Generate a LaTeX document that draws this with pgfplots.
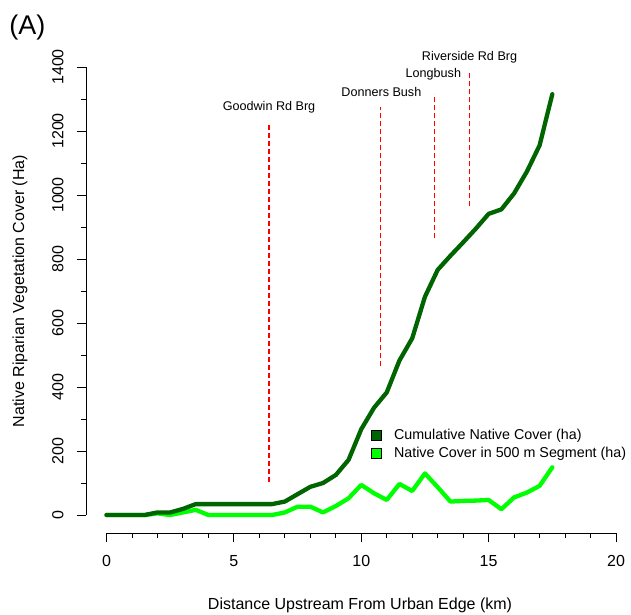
\documentclass[border=0pt]{standalone}
\usepackage{pgfplots}
\pgfplotsset{compat=1.18}
\usepackage{pgfplotstable}
\usepackage{fontspec}
\setmainfont{Liberation Sans}
\definecolor{darkgreenR}{HTML}{006400}
\definecolor{greenR}{HTML}{00FF00}
\definecolor{redR}{HTML}{FF0000}
\pgfplotstableread{
km cum
0 0
0.5 0
1 0
1.5 0
2 8
2.5 8
3 19
3.5 34
4 34
4.5 34
5 34
5.5 34
6 34
6.5 34
7 42
7.5 65
8 88
8.5 100
9 125
9.5 172
10 268
10.5 335
11 383
11.5 483
12 552
12.5 682
13 766
13.5 810
14 852
14.5 895
15 941
15.5 955
16 1005
16.5 1073
17 1155
17.5 1315
}\cumtable
\pgfplotstableread{
km seg
0 0
0.5 0
1 0
1.5 0
2 5
2.5 0
3 8
3.5 16
4 0
4.5 0
5 0
5.5 0
6 0
6.5 0
7 8
7.5 26
8 26
8.5 8
9 28
9.5 52
10 94
10.5 68
11 47
11.5 97
12 75
12.5 130
13 87
13.5 42
14 44
14.5 45
15 47
15.5 18
16 55
16.5 70
17 91
17.5 149
}\segtable
\begin{document}
\begin{tikzpicture}
\useasboundingbox (0,0) rectangle (631bp,615bp);
\begin{axis}[
  at={(86bp,82bp)}, anchor=south west,
  scale only axis, width=530bp, height=466bp,
  xmin=-0.805, xmax=20, ymin=-56.25, ymax=1400,
  clip=false,
  axis x line*=bottom, axis y line*=left,
  axis line style={draw=none},
  every tick/.style={line width=0.9bp, black},
  tick align=outside,
  major tick length=9bp, minor tick length=5bp,
  xtick={0,5,...,20}, minor xtick={1,2,3,4,6,7,8,9,11,12,13,14,16,17,18,19},
  ytick={0,200,...,1400}, minor ytick={100,300,...,1300},
  /pgf/number format/assume math mode=true,
  /pgf/number format/1000 sep={},
  tick label style={font=\fontsize{16bp}{19bp}\selectfont},
  xticklabel style={yshift=-10bp},
  yticklabel style={rotate=90, anchor=south, yshift=10bp},
  xlabel={Distance Upstream From Urban Edge (km)},
  ylabel={Native Riparian Vegetation Cover (Ha)},
  every axis x label/.style={at={(axis description cs:0.517,-0.1545)}, anchor=center, font=\fontsize{16bp}{19bp}\selectfont},
  every axis y label/.style={at={(axis description cs:-0.1245,0.5193)}, anchor=center, rotate=90, font=\fontsize{16bp}{19bp}\selectfont},
  legend style={draw=none, fill=none, at={(rel axis cs:0.532,0.230)}, anchor=north west,
    font=\fontsize{14.3bp}{17bp}\selectfont, row sep=3bp,
    nodes={inner sep=1.5bp}},
  legend cell align=left,
]
\draw[line width=0.9bp, black] (axis cs:0,-56.25) -- (axis cs:20,-56.25);
\draw[line width=0.9bp, black] (axis cs:-0.805,0) -- (axis cs:-0.805,1400);
\addplot[redR, line width=1.2bp, dash pattern=on 5bp off 3bp, forget plot] coordinates {(6.38,104) (6.38,1219)};
\addplot[redR, line width=1.2bp, dash pattern=on 5bp off 3bp, forget plot] coordinates {(10.76,466) (10.76,1276)};
\addplot[redR, line width=1.2bp, dash pattern=on 5bp off 3bp, forget plot] coordinates {(12.86,866) (12.86,1316)};
\addplot[redR, line width=1.2bp, dash pattern=on 5bp off 3bp, forget plot] coordinates {(14.26,967) (14.26,1381)};
\addplot[greenR, line width=4.3bp, line join=round, line cap=round, forget plot] table[x=km, y=seg] {\segtable};
\addplot[darkgreenR, line width=4.3bp, line join=round, line cap=round, forget plot] table[x=km, y=cum] {\cumtable};
\addlegendimage{legend image code/.code={\path[draw=none,fill=none] (0bp,-5bp) rectangle (21bp,5bp);\draw[fill=darkgreenR, draw=black, line width=0.8bp] (0bp,-5bp) rectangle (10bp,5bp);}}
\addlegendentry{Cumulative Native Cover (ha)}
\addlegendimage{legend image code/.code={\path[draw=none,fill=none] (0bp,-5bp) rectangle (21bp,5bp);\draw[fill=greenR, draw=black, line width=0.8bp] (0bp,-5bp) rectangle (10bp,5bp);}}
\addlegendentry{Native Cover in 500 m Segment (ha)}
\node[font=\fontsize{12.6bp}{15bp}\selectfont] at (axis cs:6.38,1275) {Goodwin Rd Brg};
\node[font=\fontsize{12.6bp}{15bp}\selectfont] at (axis cs:10.79,1323) {Donners Bush};
\node[font=\fontsize{12.6bp}{15bp}\selectfont] at (axis cs:12.83,1378) {Longbush};
\node[font=\fontsize{12.6bp}{15bp}\selectfont] at (axis cs:14.25,1431) {Riverside Rd Brg};
\node[font=\fontsize{27bp}{30bp}\selectfont] at (rel axis cs:-0.1104,1.0837) {(A)};
\end{axis}
\end{tikzpicture}
\end{document}
